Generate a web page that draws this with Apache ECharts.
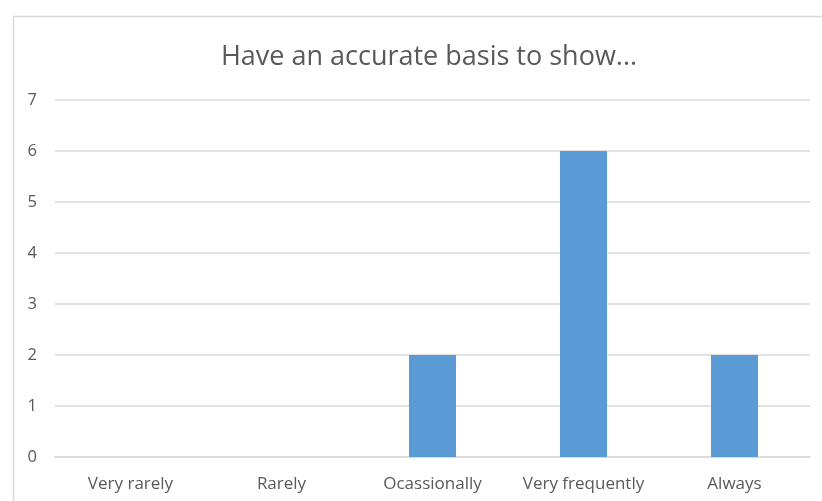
<!DOCTYPE html>
<html>
<head>
<meta charset="utf-8">
<script src="https://cdn.jsdelivr.net/npm/echarts@6/dist/echarts.min.js"></script>
<style>
  html, body { margin: 0; padding: 0; background: #ffffff; }
  #chart { width: 822px; height: 501px; }
</style>
</head>
<body>
<div id="chart"></div>
<script>
// Survey responses: how often people have an accurate basis to show...
const categories = ['Very rarely', 'Rarely', 'Ocassionally', 'Very frequently', 'Always'];
const counts = [0, 0, 2, 6, 2];
const yTicks = [0, 1, 2, 3, 4, 5, 6, 7];
const chartTitle = 'Have an accurate basis to show...';

const textColor = '#595959';
const font = '"Open Sans", "Noto Sans", sans-serif';

const chart = echarts.init(document.getElementById('chart'), null, { renderer: 'canvas' });

chart.setOption({
  backgroundColor: '#ffffff',
  animation: false,
  graphic: [{
    type: 'rect',
    left: 11,
    top: 14,
    shape: { x: 0, y: 0, width: 830, height: 520 },
    style: { fill: 'none', stroke: '#d9d9d9', lineWidth: 1.5 },
    silent: true
  }],
  title: {
    text: chartTitle,
    left: 424,
    top: 39,
    textAlign: 'center',
    textStyle: { color: textColor, fontFamily: font, fontSize: 27, fontWeight: 'normal' }
  },
  grid: { left: 55, right: 12, top: 100, bottom: 44, containLabel: false },
  xAxis: {
    type: 'category',
    data: categories,
    axisLine: { show: true, lineStyle: { color: '#d9d9d9', width: 1.5 } },
    axisTick: { show: false },
    axisLabel: {
      interval: 0,
      hideOverlap: false,
      color: textColor,
      fontFamily: font,
      fontSize: 17,
      margin: 19
    }
  },
  yAxis: {
    type: 'value',
    min: yTicks[0],
    max: yTicks[yTicks.length - 1],
    interval: 1,
    axisLine: { show: false },
    axisTick: { show: false },
    axisLabel: { color: textColor, fontFamily: font, fontSize: 16.5, margin: 18 },
    splitLine: { lineStyle: { color: '#d9d9d9', width: 1.5 } }
  },
  series: [{
    type: 'bar',
    data: counts,
    barWidth: 47,
    itemStyle: { color: '#5b9bd5' }
  }]
});
</script>
</body>
</html>
